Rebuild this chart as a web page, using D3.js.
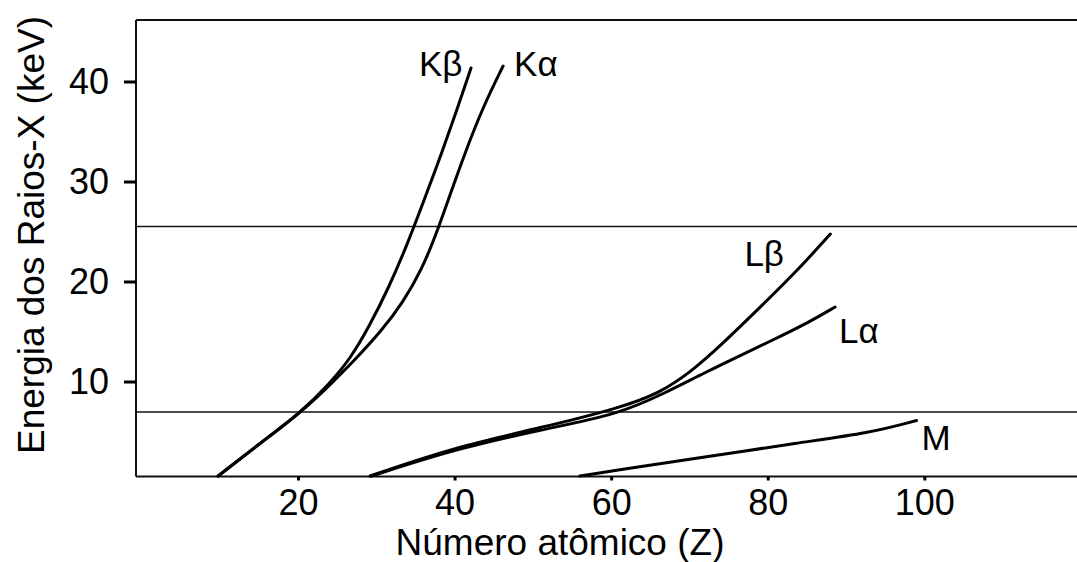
<!DOCTYPE html>
<html>
<head>
<meta charset="utf-8">
<script src="https://cdn.jsdelivr.net/npm/d3@7"></script>
<style>
  html, body { margin: 0; padding: 0; background: #fff; }
  svg { display: block; font-family: "Liberation Sans", Arial, sans-serif; }
</style>
</head>
<body>
<svg id="chart" width="1077" height="562"></svg>
<script>
// Characteristic X-ray lines: [atomic number Z, energy keV]
const kAlpha = [[9.8,0.55],[15.2,3.85],[20.3,6.85],[24.1,9.65],[27.3,12.2],[30.5,14.9],[33.5,18.0],[35.8,21.2],[37.6,24.6],[39.3,28.4],[41.3,32.8],[43.6,37.4],[46.2,41.55]];
const kBeta  = [[9.8,0.55],[15.2,3.85],[20.3,6.85],[24.1,9.85],[26.7,12.3],[29.1,15.5],[31.6,19.4],[33.9,23.6],[36.0,27.9],[38.1,32.3],[40.1,36.7],[42.1,41.35]];
const lBeta  = [[29.2,0.55],[40.1,3.45],[50.9,5.35],[61.1,7.35],[66.2,8.85],[70.1,10.9],[74.0,13.6],[79.0,17.4],[83.8,21.1],[88.0,24.75]];
const lAlpha = [[29.4,0.55],[40.1,3.25],[50.9,5.15],[61.1,6.75],[67.0,8.9],[72.0,10.9],[76.5,12.6],[80.5,14.1],[84.5,15.6],[88.6,17.45]];
const mLine  = [[56.0,0.55],[61.1,1.2],[71.3,2.35],[84.1,3.9],[93.0,4.85],[99.0,6.1]];

const seriesNames = ["Kβ", "Kα", "Lβ", "Lα", "M"];
const seriesData = [kBeta, kAlpha, lBeta, lAlpha, mLine];

// Energy thresholds drawn as horizontal reference lines (keV)
const thresholds = [25.5, 6.95];

const xTicks = [20, 40, 60, 80, 100];
const yTicks = [10, 20, 30, 40];
const xTitle = "Número atômico (Z)";
const yTitle = "Energia dos Raios-X (keV)";

const svg = d3.select("#chart");
const plotLeft = 136, plotRight = 1077, plotTop = 20, plotBottom = 476.5;

const x = d3.scaleLinear().domain([-0.69, 119.5]).range([plotLeft, plotRight]);
const y = d3.scaleLinear().domain([0.5, 46.15]).range([plotBottom, plotTop]);

// frame: top border
svg.append("line")
  .attr("x1", plotLeft).attr("x2", plotRight)
  .attr("y1", plotTop).attr("y2", plotTop)
  .attr("stroke", "#111").attr("stroke-width", 2);

// reference lines
svg.selectAll("line.thr").data(thresholds).join("line")
  .attr("class", "thr")
  .attr("x1", plotLeft).attr("x2", plotRight)
  .attr("y1", d => y(d)).attr("y2", d => y(d))
  .attr("stroke", "#111").attr("stroke-width", 1.5);

// axes
const yAxis = d3.axisLeft(y).tickValues(yTicks).tickSize(12).tickSizeOuter(0).tickPadding(15);
const gy = svg.append("g").attr("transform", `translate(${plotLeft},0)`).call(yAxis);
const xAxis = d3.axisBottom(x).tickValues(xTicks).tickSize(4).tickSizeOuter(0).tickPadding(8.5);
const gx = svg.append("g").attr("transform", `translate(0,${plotBottom})`).call(xAxis);

[gx, gy].forEach(g => {
  g.select(".domain").attr("stroke", "#111").attr("stroke-width", 2);
  g.selectAll(".tick line").attr("stroke", "#000").attr("stroke-width", 3);
  g.selectAll(".tick text").attr("fill", "#000")
    .style("font-size", "36px").style("font-family", "Liberation Sans, Arial, sans-serif");
});
gy.select(".domain").attr("d", `M0,${plotTop}V${plotBottom}`);
gx.select(".domain").attr("d", `M${plotLeft},0H${plotRight}`);

// curves
const line = d3.line().x(d => x(d[0])).y(d => y(d[1])).curve(d3.curveBasis);
svg.selectAll("path.series").data(seriesData).join("path")
  .attr("class", "series")
  .attr("d", line)
  .attr("fill", "none")
  .attr("stroke", "#000")
  .attr("stroke-width", 3)
  .attr("stroke-linecap", "round");

// curve labels, anchored near each curve's upper end
const labelPos = [
  { dx: -52, dy: 8 },  // Kβ
  { dx: 11, dy: 10 },  // Kα
  { dx: -86, dy: 32 }, // Lβ
  { dx: 4, dy: 36 },   // Lα
  { dx: 5, dy: 29 }    // M
];
svg.selectAll("text.lbl").data(seriesData).join("text")
  .attr("class", "lbl")
  .attr("x", (d, i) => x(d[d.length - 1][0]) + labelPos[i].dx)
  .attr("y", (d, i) => y(d[d.length - 1][1]) + labelPos[i].dy)
  .attr("fill", "#000")
  .style("font-size", "35px")
  .text((d, i) => seriesNames[i]);

// axis titles
svg.append("text")
  .attr("x", 560).attr("y", 555)
  .attr("text-anchor", "middle")
  .attr("fill", "#000")
  .style("font-size", "37px")
  .text(xTitle);

svg.append("text")
  .attr("transform", "translate(44,235) rotate(-90)")
  .attr("text-anchor", "middle")
  .attr("fill", "#000")
  .style("font-size", "37px")
  .text(yTitle);
</script>
</body>
</html>
